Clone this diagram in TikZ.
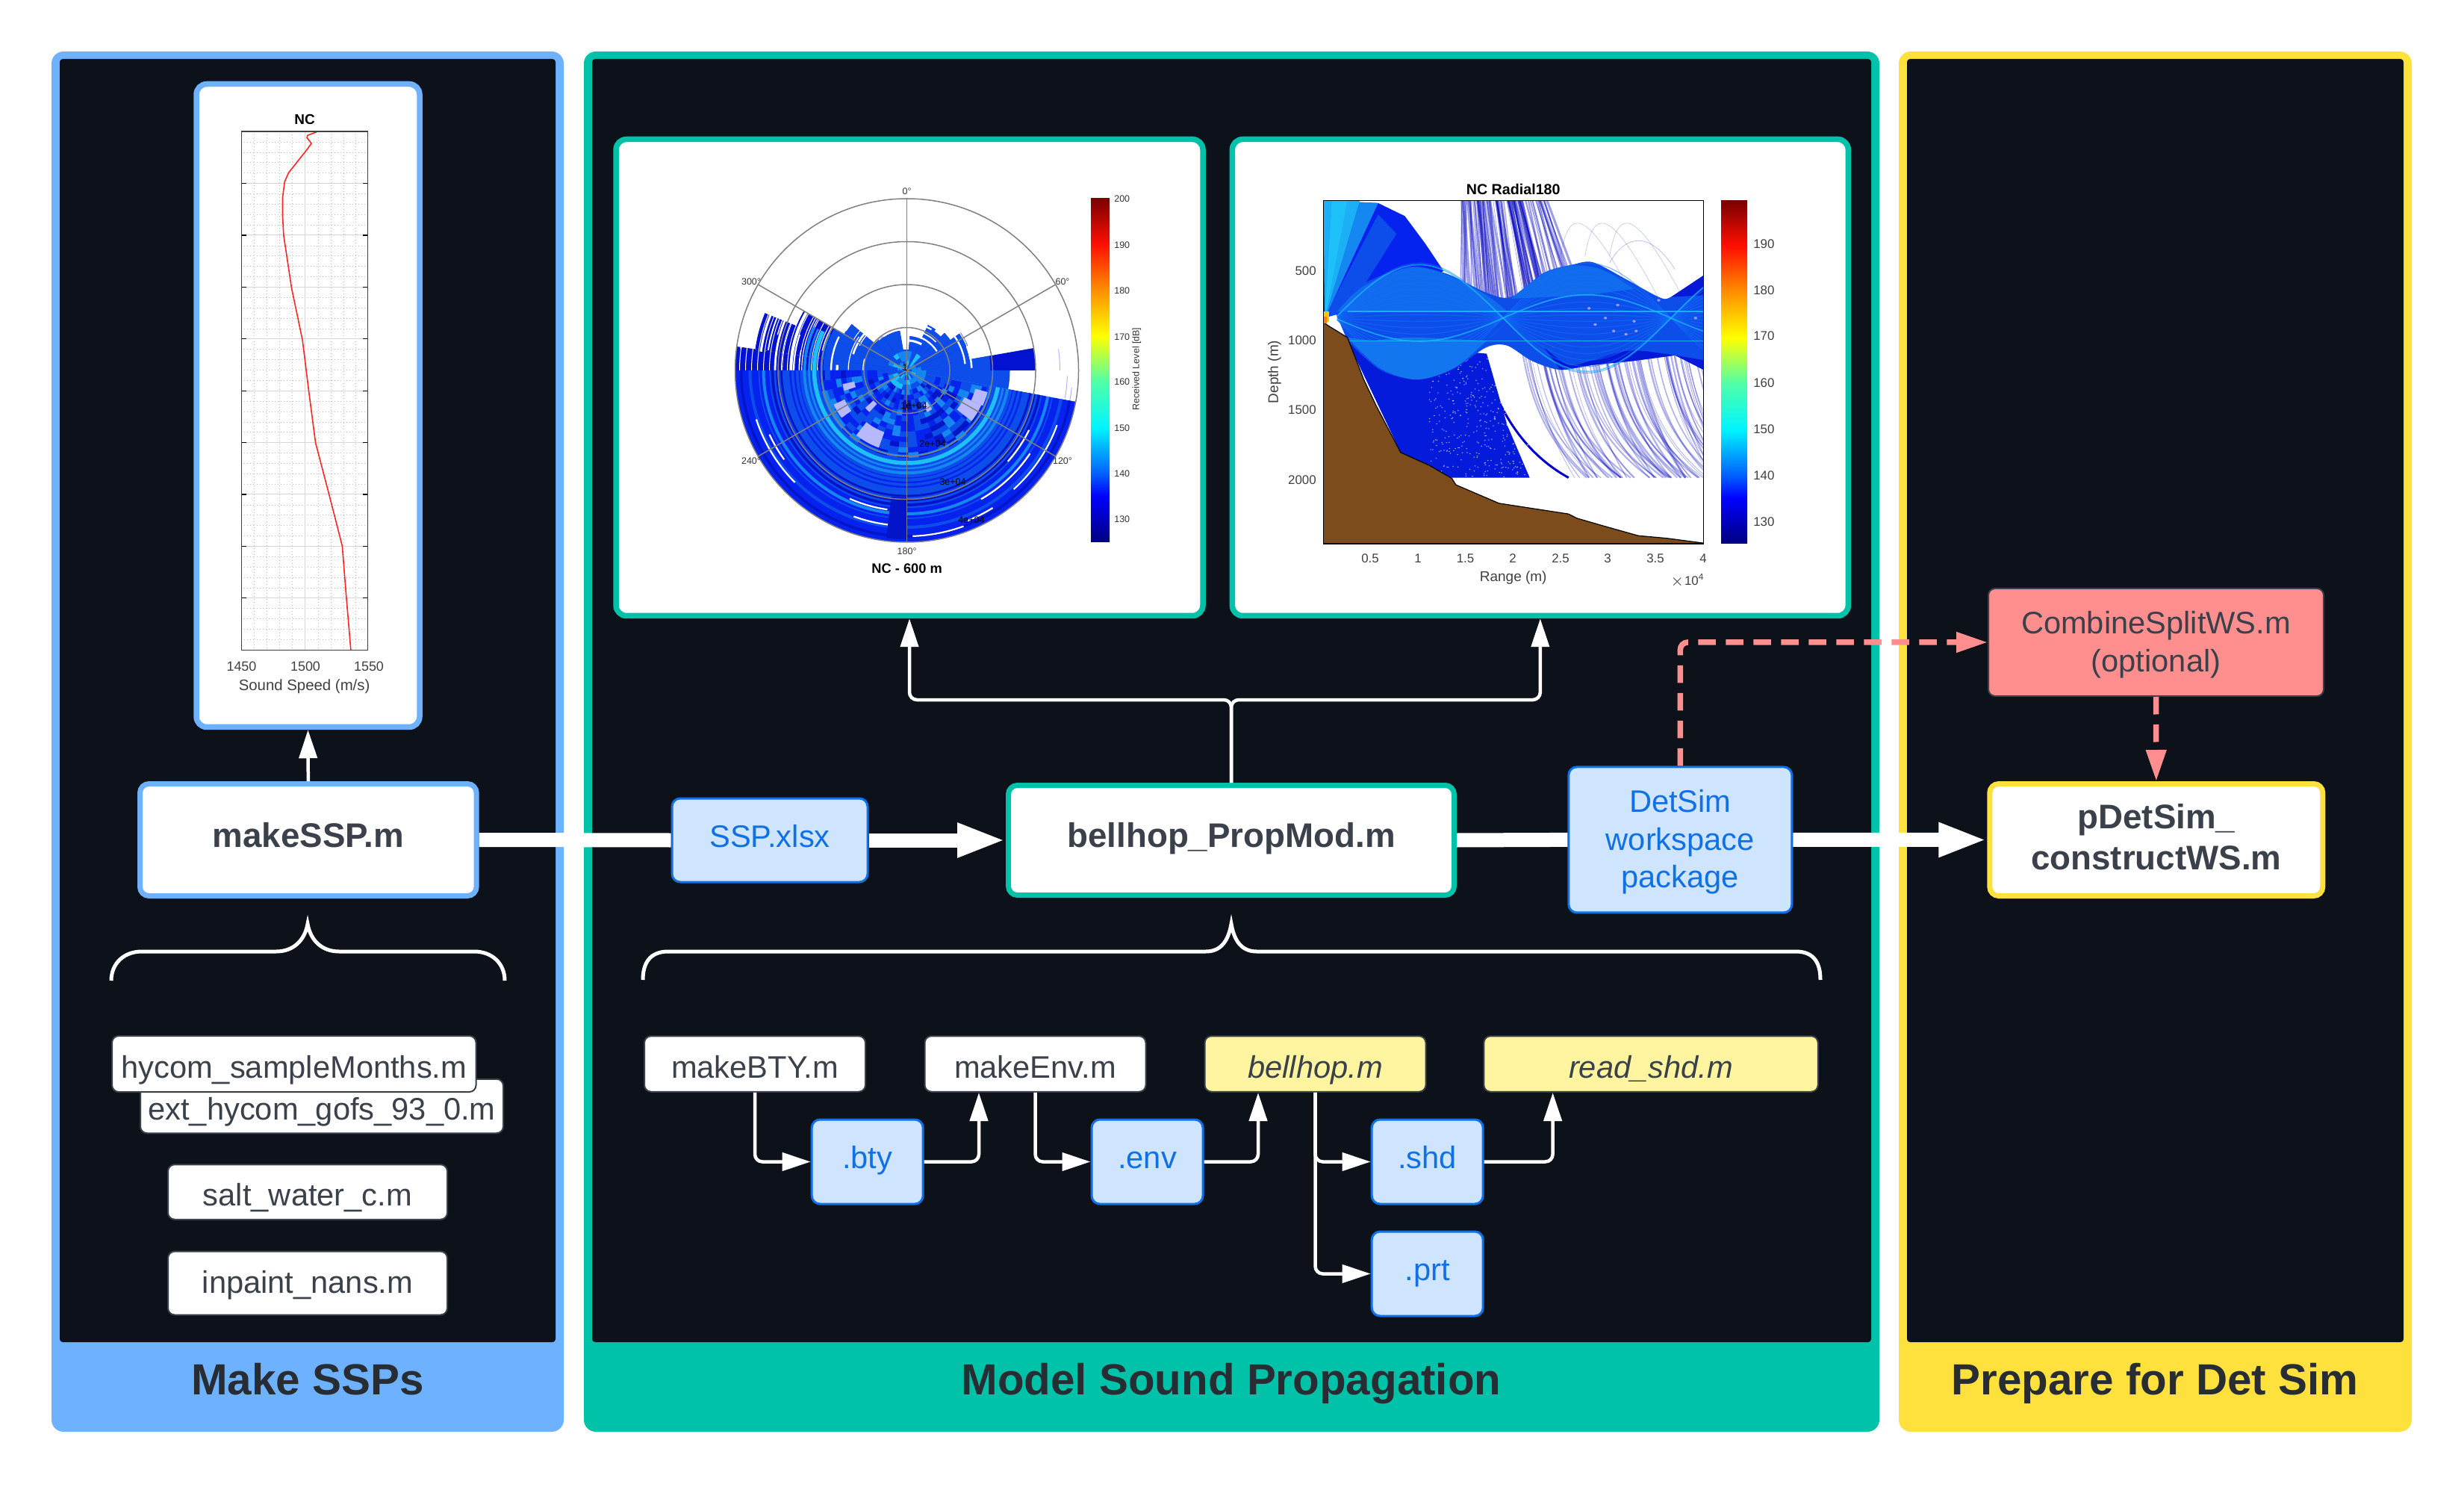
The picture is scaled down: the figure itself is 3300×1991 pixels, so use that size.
\documentclass[tikz,border=0pt]{standalone}
\usepackage{fontspec}
\setmainfont{Liberation Sans}
\usepackage{xcolor}
\usetikzlibrary{arrows.meta, calc}

\definecolor{sspblue}{HTML}{6DB1FF}
\definecolor{propteal}{HTML}{00C2A8}
\definecolor{detyellow}{HTML}{FFE13D}
\definecolor{inkdark}{HTML}{0D1119}
\definecolor{boxtext}{HTML}{3A414A}
\definecolor{foottext}{HTML}{282C33}
\definecolor{filefill}{HTML}{CFE4FF}
\definecolor{fileblue}{HTML}{1071E5}
\definecolor{shellfill}{HTML}{FFF5A0}
\definecolor{optred}{HTML}{FF8F8F}
\definecolor{deepblue}{HTML}{0622EE}
\definecolor{midblue}{HTML}{0D4EEB}
\definecolor{lightblue}{HTML}{1488F0}
\definecolor{ringcyan}{HTML}{1EC0F8}
\definecolor{navyblue}{HTML}{0414C8}
\definecolor{seafloor}{HTML}{7D4C1C}

\pgfdeclareverticalshading{jetbar}{100bp}{rgb(0bp)=(0,0,.5); rgb(25bp)=(0,0,.5); rgb(31.65bp)=(0,0,1); rgb(35bp)=(0,.38,1); rgb(41.67bp)=(0,.96,1); rgb(48.3bp)=(.31,1,.66); rgb(55bp)=(1,1,0); rgb(61.67bp)=(1,.56,0); rgb(68.3bp)=(1,.06,0); rgb(75bp)=(.48,0,0); rgb(100bp)=(.48,0,0)}
\pgfmathdeclarerandomlist{polarmix}{{deepblue}{midblue}{midblue}{lightblue}{navyblue}{deepblue}}
\pgfmathdeclarerandomlist{polarcore}{{lightblue}{lightblue}{ringcyan}{midblue}}

\tikzset{
	mainbox/.style = {draw, fill = white, line width = 0.7mm, rounded corners = 1.2mm, inner sep = 0pt, align = center, text = boxtext, font = \fontsize{13}{15.6}\selectfont\bfseries},
	mainline/.style = {mainbox, text height = 8.9pt, text depth = 3.3pt},
	plotbox/.style = {draw, fill = white, line width = 0.75mm, rounded corners = 1.4mm, inner sep = 0pt},
	scriptbox/.style = {draw = boxtext, fill = white, line width = 0.2mm, rounded corners = 0.9mm, inner sep = 0pt, text = boxtext, font = \fontsize{11.85}{14.5}\selectfont, text height = 11.85pt, text depth = 1.2pt},
	shellbox/.style = {scriptbox, fill = shellfill, font = \fontsize{11.85}{14.5}\selectfont\itshape},
	filebox/.style = {draw = fileblue, fill = filefill, line width = 0.3mm, rounded corners = 1.1mm, inner sep = 0pt, align = center, text = fileblue, font = \fontsize{11.85}{14.5}\selectfont},
	fileline/.style = {filebox, text height = 8.4pt, text depth = 3.2pt},
	optbox/.style = {draw = boxtext, fill = optred, line width = 0.2mm, rounded corners = 0.9mm, inner sep = 0pt, align = center, text = boxtext, font = \fontsize{11.85}{14.5}\selectfont},
	footlabel/.style = {text = foottext, font = \fontsize{16.6}{20}\selectfont\bfseries, text height = 14.9pt, text depth = 3pt},
	thinlink/.style = {draw = white, line width = 0.45mm, rounded corners = 1mm, -{Triangle[length = 3.8mm, width = 2.4mm]}},
	flowlink/.style = {draw = white, line width = 1.9mm, -{Triangle[length = 6.5mm, width = 4.2mm]}},
	flowplain/.style = {draw = white, line width = 1.9mm},
	optlink/.style = {draw = optred, line width = 0.75mm, rounded corners = 1mm, dash pattern = on 2.35mm off 1.35mm, -{Triangle[length = 4.2mm, width = 2.6mm]}},
	bracket/.style = {draw = white, line width = 0.5mm},
	minorgrid/.style = {draw = black!25, line width = 0.05mm, densely dotted},
	majorgrid/.style = {draw = black!16, line width = 0.1mm},
	axisframe/.style = {draw = black!75, line width = 0.12mm},
	polargrid/.style = {draw = black!50, line width = 0.15mm},
	sspfont/.style = {text = black!75, inner sep = 0pt, font = \fontsize{5.1}{6}\selectfont},
	polarfont/.style = {text = black!80, inner sep = 0pt, font = \fontsize{3.55}{4.2}\selectfont},
	rayfont/.style = {text = black!75, inner sep = 0pt, font = \fontsize{4.8}{5.8}\selectfont}
}

\begin{document}
\begin{tikzpicture}[x = 0.1mm, y = -0.1mm]
	\useasboundingbox (0,0) rectangle (3300,1991);
	\fill [white] (0,0) rectangle (3300,1991);

	% the three panels
	\foreach \pl/\pr/\pcol in {69/755/sspblue, 782/2517/propteal, 2543/3230/detyellow} {
		\fill [\pcol, rounded corners = 1.6mm] (\pl,69) rectangle (\pr,1917);
		\fill [inkdark, rounded corners = 0.4mm] ({\pl+11},79) rectangle ({\pr-11},1797);
	}
	\node [footlabel] (footssp) at (412,1847) {Make SSPs};
	\node [footlabel] (footprop) at (1649,1847) {Model Sound Propagation};
	\node [footlabel] (footdet) at (2886,1847) {Prepare for Det Sim};

	% plot frames
	\node [plotbox, draw = sspblue, minimum width = 29.9mm, minimum height = 86.1mm] (sspplot) at (412.5,543) {};
	\node [plotbox, draw = propteal, minimum width = 78.6mm, minimum height = 63.8mm] (polarplot) at (1218,505.5) {};
	\node [plotbox, draw = propteal, minimum width = 82.5mm, minimum height = 63.8mm] (rayplot) at (2062.8,505.5) {};

	% sound speed profile
	\begin{scope}[shift = {(60,60)}, x = 0.0459mm, y = -0.0638mm]
		\foreach \gx in {611,648,685,722,797,834,871,908}
			\draw [minorgrid] (\gx,182) -- (\gx,1270);
		\foreach \gm in {0,...,9}
			\foreach \gk in {1,...,4}
				\draw [minorgrid] (574,{182+108.8*\gm+21.76*\gk}) -- (943,{182+108.8*\gm+21.76*\gk});
		\foreach \gn in {1,...,9} {
			\draw [majorgrid] (574,{182+108.8*\gn}) -- (943,{182+108.8*\gn});
			\draw [axisframe, draw = black] (574,{182+108.8*\gn}) -- ++(14,0);
			\draw [axisframe, draw = black] (943,{182+108.8*\gn}) -- ++(-14,0);
		}
		\draw [majorgrid] (760,182) -- (760,1270);
		\draw [red!85!white, line width = 0.16mm] (793,183) -- (767,190) -- (765,195) -- (778,207) -- (765,220) -- (712,268) -- (700,287) -- (694,320) -- (694,360) -- (697,400) -- (720,510) -- (752,620) -- (770,725) -- (790,835) -- (830,945) -- (868,1052) -- (880,1160) -- (893,1270);
		\draw [axisframe] (574,182) rectangle (943,1270);
	\end{scope}
	\node [sspfont, text = black, font = \fontsize{5.4}{6}\selectfont\bfseries] (ssptitle) at (408,160) {NC};
	\node [sspfont] (sspa) at (323.5,892) {1450};
	\node [sspfont] (sspb) at (409,892) {1500};
	\node [sspfont] (sspc) at (494,892) {1550};
	\node [sspfont, font = \fontsize{5.8}{7}\selectfont] (sspxlabel) at (407.6,919) {Sound Speed (m/s)};

	% polar map of received level
	\begin{scope}[shift = {(1214.5,496)}, y = 0.1mm]
		\pgfmathsetseed{11}
		\foreach \aa/\ab/\rad in {0/10/172, 10/22/85, 22/35/88, 35/45/71, 45/55/64, 55/65/67, 65/85/46, 85/100/28, 100/125/54, 125/140/56, 140/150/97, 150/158/160, 158/172/205, 172/180/230} {
			\fill [navyblue!85!blue] (0,0) -- (\aa:\rad) arc [start angle = \aa, end angle = \ab, radius = \rad] -- cycle;
			\pgfmathsetmacro{\rin}{min(\rad,112)}
			\fill [midblue] (0,0) -- (\aa:\rin) arc [start angle = \aa, end angle = \ab, radius = \rin] -- cycle;
		}
		\foreach \bn in {1,...,60} {
			\pgfmathsetmacro{\rad}{40+190*rnd}
			\pgfmathsetmacro{\bw}{0.08+0.25*rnd}
			\pgfmathsetmacro{\aa}{180*rnd}
			\pgfmathsetmacro{\ab}{\aa+15+50*rnd}
			\draw [white, line width = \bw mm] (\aa:\rad) arc [start angle = \aa, end angle = \ab, radius = \rad];
		}
		\foreach \rad in {120,128,...,228}
			\draw [white, line width = 0.1mm] (135:\rad) arc [start angle = 135, end angle = 180, radius = \rad];
		\foreach \rad/\aa/\ab in {205/0/8, 215/350/358, 222/346/354}
			\draw [blue!30, line width = 0.1mm] (\aa:\rad) arc [start angle = \aa, end angle = \ab, radius = \rad];
		\fill [deepblue] (0,0) -- (180:230) arc [start angle = 180, end angle = 349.5, radius = 230] -- cycle;
		\fill [midblue] (0,0) -- (180:185) arc [start angle = 180, end angle = 349.5, radius = 185] -- cycle;
		\fill [midblue] (0,0) -- (349.5:138) arc [start angle = 349.5, end angle = 360, radius = 138] -- cycle;
		\foreach \rad in {138,144,...,228} {
			\pgfmathsetmacro{\bw}{0.12+0.3*rnd}
			\pgfmathrandomitem{\cellcol}{polarmix}
			\draw [\cellcol, line width = \bw mm] (180:\rad) arc [start angle = 180, end angle = 349.5, radius = \rad];
		}
		\foreach \rr in {26,33,...,110}
			\foreach \aa in {180,187,...,345} {
				\pgfmathsetmacro{\ab}{\aa+7}
				\pgfmathsetmacro{\rs}{\rr+7}
				\pgfmathrandomitem{\cellcol}{polarmix}
				\fill [\cellcol] (\aa:\rr) arc [start angle = \aa, end angle = \ab, radius = \rr] -- (\ab:\rs) arc [start angle = \ab, end angle = \aa, radius = \rs] -- cycle;
			}
		\foreach \aa/\ab/\ra/\rb in {232/250/88/110, 205/216/92/108, 322/335/85/110, 222/228/60/75, 296/303/50/62, 335/345/95/112, 192/198/72/88}
			\fill [white!72!blue] (\aa:\ra) arc [start angle = \aa, end angle = \ab, radius = \ra] -- (\ab:\rb) arc [start angle = \ab, end angle = \aa, radius = \rb] -- cycle;
		\foreach \rad/\lw/\rcol in {137/0.35/lightblue, 131/0.25/lightblue, 124/0.55/ringcyan, 114/0.2/lightblue}
			\draw [\rcol, line width = \lw mm] (155:\rad) arc [start angle = 155, end angle = 349.5, radius = \rad];
		\foreach \aa/\ab/\rad in {198/225/212, 205/216/203, 246/262/188, 250/266/208, 292/302/217, 300/326/199, 312/340/214, 318/334/182, 272/290/222}
			\draw [white, line width = 0.22mm] (\aa:\rad) arc [start angle = \aa, end angle = \ab, radius = \rad];
		\fill [navyblue] (263:170) arc [start angle = 263, end angle = 270, radius = 170] -- (270:226) arc [start angle = 270, end angle = 263, radius = 226] -- cycle;
		\foreach \rr in {0,6.5,13,19.5}
			\foreach \aa in {0,15,...,345} {
				\pgfmathsetmacro{\ab}{\aa+15}
				\pgfmathsetmacro{\rs}{\rr+6.5}
				\pgfmathrandomitem{\cellcol}{polarcore}
				\fill [\cellcol] (\aa:\rr) arc [start angle = \aa, end angle = \ab, radius = \rr] -- (\ab:\rs) arc [start angle = \ab, end angle = \aa, radius = \rs] -- cycle;
			}
		\foreach \rad in {57.5,115,172.5,230}
			\draw [polargrid] (0,0) circle [radius = \rad];
		\foreach \aa in {30,90,...,330}
			\draw [polargrid] (0,0) -- (\aa:230);
	\end{scope}
	\node [polarfont] (polar000) at (1214.6,256) {0°};
	\node [polarfont] (polar060) at (1423,377) {60°};
	\node [polarfont] (polar120) at (1423,617.5) {120°};
	\node [polarfont] (polar180) at (1214.6,738.5) {180°};
	\node [polarfont] (polar240) at (1006,617.5) {240°};
	\node [polarfont] (polar300) at (1006,377) {300°};
	\node [polarfont, text = black] (polarone) at (1212,492) {1};
	\node [polarfont, text = black] (polarra) at (1224,543) {1e+04};
	\node [polarfont, text = black] (polarrb) at (1249,594) {2e+04};
	\node [polarfont, text = black] (polarrc) at (1276,645) {3e+04};
	\node [polarfont, text = black] (polarrd) at (1301,696.5) {4e+04};
	\node [polarfont, text = black, font = \fontsize{5.2}{6}\selectfont\bfseries] (polartitle) at (1214.6,761.5) {NC - 600 m};
	\shade [shading = jetbar] (1461,266) rectangle (1486,725.5);
	\foreach \bv/\by in {200/266.3, 190/328.3, 180/389.4, 170/451, 160/511.7, 150/572.9, 140/634, 130/695.7}
		\node [polarfont, anchor = west] (polarbar\bv) at (1491.6,\by) {\bv};
	\node [polarfont, rotate = 90] (polarbarlabel) at (1522.5,494) {Received Level [dB]};

	% depth section along one radial
	\begin{scope}[shift = {(1640,170)}, x = 0.05485mm, y = -0.04337mm]
		\clip (241,227) rectangle (1170,1287);
		\pgfmathsetseed{5}
		\foreach \bn in {1,...,90} {
			\pgfmathsetmacro{\bx}{570+220*rnd}
			\pgfmathsetmacro{\bw}{0.06+0.28*rnd}
			\pgfmathsetmacro{\bd}{\bx+(\bx-670)*0.35+25+30*rnd}
			\draw [blue!75!black, opacity = 0.38, line width = \bw mm] (\bx,227) -- (\bd,540);
		}
		\foreach \bx in {820,880,940}
			\draw [blue!75!black, opacity = 0.2, line width = 0.08mm] (\bx,400) .. controls ({\bx+20},250) and ({\bx+60},240) .. ({\bx+180},530);
		\draw [blue!75!black, opacity = 0.25, line width = 0.08mm] (940,420) .. controls (980,330) and (1040,320) .. (1100,440);
		\foreach \bn in {1,...,80} {
			\pgfmathsetmacro{\bx}{725+440*rnd}
			\pgfmathsetmacro{\bw}{0.04+0.22*rnd}
			\pgfmathsetmacro{\be}{\bx+110+80*rnd}
			\draw [blue!75!black, opacity = 0.3, line width = \bw mm] (\bx,680) .. controls ({\bx+20},840) and ({\bx+60},970) .. (\be,1083);
		}
		\draw [blue!80!black, line width = 0.3mm] (650,790) .. controls (690,920) and (750,1020) .. (840,1083);
		\fill [navyblue!50!deepblue] (300,660) -- (430,1005) -- (555,1083) -- (745,1083) -- (690,920) -- (640,700) -- cycle;
		\foreach \bn in {1,...,420}
			\fill [white, opacity = 0.7] ({500+245*rnd},{700+383*rnd}) circle [radius = 1.6];
		\fill [deepblue] (241,227) -- (375,235) -- (440,275) -- (490,360) -- (535,445) -- (300,570) -- (241,570) -- cycle;
		\fill [midblue] (243,590) -- (375,270) -- (420,330) -- (300,570) -- cycle;
		\fill [lightblue] (245,590) -- (241,227) -- (375,235) -- cycle;
		\fill [ringcyan!70!lightblue] (245,590) -- (241,227) -- (330,227) -- cycle;
		\fill [ringcyan] (245,590) -- (262,227) -- (300,227) -- cycle;
		\fill [midblue] plot [smooth] coordinates {(270,570) (330,490) (450,432) (540,452) (640,512) (700,525) (780,450) (850,425) (900,418) (980,470) (1060,525) (1090,525) (1170,458)} -- (1170,750) -- plot [smooth] coordinates {(1100,705) (1000,722) (900,735) (820,750) (750,722) (690,675) (640,680) (560,745) (470,780) (380,750) (300,660)} -- cycle;
		\fill [lightblue!70!midblue] plot [smooth] coordinates {(300,650) (380,745) (470,780) (560,745) (640,660) (690,600)} -- plot [smooth] coordinates {(640,660) (560,655) (450,650) (360,660)} -- cycle;
		\fill [lightblue!50!midblue] plot [smooth] coordinates {(275,570) (335,495) (450,434) (540,455) (640,520) (690,570)} -- (300,570) -- cycle;
		\fill [lightblue!50!midblue] plot [smooth] coordinates {(700,530) (780,452) (850,428) (920,440) (1000,500)} -- (880,520) -- cycle;
		\fill [navyblue!60!deepblue] (1090,525) -- (1170,458) -- (1170,520) -- cycle;
		\fill [navyblue!60!deepblue] plot [smooth] coordinates {(780,680) (840,735) (900,720) (1000,690) (1170,720)} -- (1170,750) -- (1100,705) -- (1000,722) -- (900,735) -- (820,750) -- cycle;
		% rays inside the band
		\foreach \ra in {-170,-150,...,170}
			\draw [ringcyan!60!blue, opacity = 0.5, line width = 0.12mm] plot [domain = 275:1170, samples = 40] (\x,{590+\ra*sin((\x-270)*0.43902)});
		\draw [ringcyan, opacity = 0.7, line width = 0.16mm] plot [domain = 275:1170, samples = 40] (\x,{590+72*sin((\x-270)*0.43902)});
		\draw [ringcyan, opacity = 0.7, line width = 0.16mm] plot [domain = 275:1170, samples = 40] (\x,{590-165*sin((\x-270)*0.43902)});
		\foreach \dy/\dw in {570/0.14, 660/0.1}
			\draw [ringcyan, opacity = 0.8, line width = \dw mm] (300,\dy) -- (1170,\dy);
		\foreach \sx/\sy in {890/560, 930/590, 960/550, 1000/600, 950/630, 905/610, 1060/535, 1150/590, 980/640, 1005/630}
			\fill [white!60!blue] (\sx,\sy) circle [radius = 4];
		\fill [seafloor] (241,603) -- (255,615) -- (300,650) -- (340,780) -- (370,860) -- (430,1005) -- (500,1045) -- (555,1085) -- (565,1105) -- (670,1162) -- (840,1195) -- (860,1208) -- (920,1230) -- (1010,1262) -- (1080,1270) -- (1170,1285) -- (1170,1287) -- (241,1287) -- cycle;
		\draw [black, line width = 0.12mm] (241,603) -- (255,615) -- (300,650) -- (340,780) -- (370,860) -- (430,1005) -- (500,1045) -- (555,1085) -- (565,1105) -- (670,1162) -- (840,1195) -- (860,1208) -- (920,1230) -- (1010,1262) -- (1080,1270) -- (1170,1285);
		\fill [yellow!60!orange] (241,570) rectangle (255,603);
		\fill [orange] (241,585) rectangle (250,606);
	\end{scope}
	\draw [black, line width = 0.12mm] (1772.2,268.4) rectangle (2281.8,728);
	\node [rayfont, text = black, font = \fontsize{5.6}{7}\selectfont\bfseries] (raytitle) at (2026.7,253.7) {NC Radial180};
	\foreach \dv/\dy in {500/363, 1000/456, 1500/548.6, 2000/642.7}
		\node [rayfont, anchor = east] (raydepth\dv) at (1763.4,\dy) {\dv};
	\foreach \rv/\rx [count = \ri] in {0.5/1835, 1/1899, 1.5/1962.5, 2/2026, 2.5/2090, 3/2153, 3.5/2217, 4/2281}
		\node [rayfont] (rayrange\ri) at (\rx,748) {\rv};
	\node [rayfont, rotate = 90, font = \fontsize{5.4}{7}\selectfont] (raydepthlabel) at (1707,498) {Depth (m)};
	\node [rayfont, font = \fontsize{5.4}{7}\selectfont] (rayrangelabel) at (2026.7,774) {Range (m)};
	\node [rayfont] (rayscale) at (2260,777) {$\times$10\textsuperscript{4}};
	\shade [shading = jetbar] (2305,268.4) rectangle (2340,728);
	\foreach \bv/\by in {190/327, 180/388.6, 170/450, 160/512.6, 150/574.6, 140/636.6, 130/698.2}
		\node [rayfont, anchor = west] (raybar\bv) at (2347.6,\by) {\bv};

	% main row of boxes
	\node [mainline, draw = sspblue, minimum width = 45.06mm, minimum height = 15mm] (makessp) at (412.8,1124.5) {makeSSP.m};
	\node [mainline, draw = propteal, minimum width = 59.7mm, minimum height = 14.7mm] (bellprop) at (1649,1125) {bellhop\_PropMod.m};
	\node [mainbox, draw = detyellow, minimum width = 44.6mm, minimum height = 15mm] (pdetsim) at (2887.8,1124.5) {pDetSim\_\\constructWS.m\rule[-2.3pt]{0pt}{2.3pt}};
	\node [fileline, minimum width = 26.2mm, minimum height = 11.2mm] (sspxlsx) at (1031,1125) {SSP.xlsx};
	\node [filebox, minimum width = 29.9mm, minimum height = 19.5mm] (detsim) at (2250.3,1124.4) {\rule{0pt}{10.2pt}DetSim\\workspace\\package};
	\node [optbox, minimum width = 44.9mm, minimum height = 14.4mm] (combine) at (2887.5,860) {\rule{0pt}{10.6pt}CombineSplitWS.m\\(optional)};

	% scripts under makeSSP
	\node [scriptbox, minimum width = 48.6mm, minimum height = 7.25mm] (exthycom) at (431,1481) {ext\_hycom\_gofs\_93\_0.m};
	\node [scriptbox, minimum width = 48.75mm, minimum height = 7.5mm] (hycom) at (393.8,1424.5) {hycom\_sampleMonths.m};
	\node [scriptbox, minimum width = 37.4mm, minimum height = 7.35mm] (saltwater) at (412,1596) {salt\_water\_c.m};
	\node [scriptbox, minimum width = 37.4mm, minimum height = 8.5mm, text height = 9.5pt, text depth = 2.1pt] (inpaint) at (412,1718) {inpaint\_nans.m};

	% scripts under bellhop_PropMod
	\node [scriptbox, minimum width = 29.6mm, minimum height = 7.45mm] (makebty) at (1011,1424.5) {makeBTY.m};
	\node [scriptbox, minimum width = 29.6mm, minimum height = 7.45mm] (makeenv) at (1386.5,1424.5) {makeEnv.m};
	\node [shellbox, minimum width = 29.6mm, minimum height = 7.45mm] (bellhop) at (1761.5,1424.5) {bellhop.m};
	\node [shellbox, minimum width = 44.75mm, minimum height = 7.45mm] (readshd) at (2211,1424.5) {read\_shd.m};
	\node [fileline, minimum width = 14.9mm, minimum height = 11.3mm] (bty) at (1161.7,1555.5) {.bty};
	\node [fileline, minimum width = 14.9mm, minimum height = 11.3mm] (env) at (1536.5,1555.5) {.env};
	\node [fileline, minimum width = 14.9mm, minimum height = 11.3mm] (shd) at (1911.7,1555.5) {.shd};
	\node [fileline, minimum width = 14.9mm, minimum height = 11.3mm] (prt) at (1911.7,1705.5) {.prt};

	% where the arrows come into the bottom of a script
	\coordinate (envin) at (1311,1463);
	\coordinate (bellin) at (1685,1463);
	\coordinate (readin) at (2079.6,1463);
	\coordinate (plotsplit) at (1649,937);

	% connectors
	\draw [thinlink] (makessp.north) -- (sspplot.south);
	\draw [flowplain] (makessp.east) -- (sspxlsx.west);
	\draw [flowlink] (sspxlsx.east) -- (bellprop.west);
	\draw [flowplain] (bellprop.east) -- (detsim.west);
	\draw [flowlink] (detsim.east) -- (pdetsim.west);
	\draw [thinlink] (bellprop.north) -- (plotsplit) -| (polarplot.south);
	\draw [thinlink] (bellprop.north) -- (plotsplit) -| (rayplot.south);
	\draw [optlink] (detsim.north) |- (combine.west);
	\draw [optlink] (combine.south) -- (pdetsim.north);
	\draw [thinlink] (makebty.south) |- (bty.west);
	\draw [thinlink] (bty.east) -| (envin);
	\draw [thinlink] (makeenv.south) |- (env.west);
	\draw [thinlink] (env.east) -| (bellin);
	\draw [thinlink] (bellhop.south) |- (shd.west);
	\draw [thinlink] (bellhop.south) |- (prt.west);
	\draw [thinlink] (shd.east) -| (readin);

	% braces
	\draw [bracket] (149,1313) .. controls (149,1290) and (166,1274) .. (190,1274) -- (370,1274) .. controls (392,1274) and (408,1260) .. (412,1237) .. controls (416,1260) and (432,1274) .. (454,1274) -- (635,1274) .. controls (659,1274) and (676,1290) .. (676,1313);
	\draw [bracket] (861,1312) .. controls (861,1290) and (870,1274) .. (895,1274) -- (1615,1274) .. controls (1635,1274) and (1645,1260) .. (1649,1237) .. controls (1653,1260) and (1663,1274) .. (1683,1274) -- (2405,1274) .. controls (2430,1274) and (2438,1290) .. (2438,1312);
\end{tikzpicture}
\end{document}
